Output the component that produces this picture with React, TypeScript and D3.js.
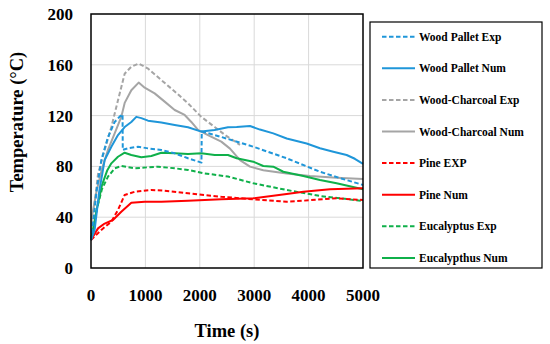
import React from 'react';
import * as d3 from 'd3';

// [time (s), temperature (°C)]
const woodPalletExp: [number, number][] = [
  [0, 22], [50, 40], [100, 60], [190, 85], [312, 103], [435, 115], [557, 120.5], [580, 121],
  [584, 93], [700, 94.5], [864, 95.5], [1048, 94.2], [1293, 93], [1538, 90.3], [1783, 86.4],
  [2030, 83], [2036, 107.5], [2273, 104.7], [2487, 102], [2983, 95.5], [3597, 86.4],
  [4209, 75.8], [4600, 70.5], [5000, 65.4],
];
const woodPalletNum: [number, number][] = [
  [0, 22], [67, 30], [150, 60], [251, 85], [374, 95.5], [496, 104.7], [619, 111], [741, 115],
  [833, 119], [925, 118], [1048, 116], [1293, 114.5], [1538, 112.6], [1783, 110.8], [2028, 107.4],
  [2273, 108.7], [2518, 110.8], [2678, 111], [2922, 111.8], [3106, 109], [3351, 106], [3597, 102],
  [3964, 98], [4209, 94.3], [4454, 91.6], [4699, 89], [4850, 86], [5000, 82],
];
const woodCharcoalExp: [number, number][] = [
  [0, 22], [50, 45], [129, 74], [251, 93], [374, 111], [496, 132], [619, 153], [741, 158.5],
  [876, 161], [1048, 157], [1293, 148], [1538, 139], [1783, 129.7], [2028, 119], [2273, 111],
  [2487, 104], [2739, 97],
];
const woodCharcoalNum: [number, number][] = [
  [0, 22], [15, 40], [100, 60], [200, 78], [312, 93], [435, 106], [557, 119], [619, 130],
  [741, 140], [876, 146], [987, 142], [1170, 137.5], [1354, 131], [1538, 124.4], [1722, 120.5],
  [1844, 115], [1967, 108.7], [2150, 104.7], [2395, 99.5], [2555, 94], [2739, 85], [2922, 79.8],
  [3167, 77], [3597, 74.5], [4025, 72.4], [4515, 71], [5000, 70],
];
const pineExp: [number, number][] = [
  [0, 22], [190, 30], [374, 36.5], [496, 45.7], [619, 57.5], [803, 60], [1109, 61.4],
  [1354, 60.9], [1783, 58.8], [2395, 56.1], [2983, 54.1], [3597, 52.2], [3903, 53],
  [4515, 54.9], [5000, 53.5],
];
const pineNum: [number, number][] = [
  [0, 22], [129, 31.2], [251, 35], [404, 37.8], [557, 44.3], [741, 51.4], [987, 52.2],
  [1293, 52.2], [1783, 53], [2395, 54.1], [2983, 54.9], [3597, 58.3], [3903, 60.1],
  [4393, 62], [5000, 62.7],
];
const eucalyptusExp: [number, number][] = [
  [0, 22], [100, 45], [200, 62], [312, 71.9], [435, 78.5], [557, 80.3], [803, 78.5],
  [1048, 79.3], [1232, 79.8], [1538, 78.5], [1783, 77.2], [2089, 74.5], [2518, 72],
  [2983, 66.7], [3597, 61.4], [4209, 56.7], [5000, 52.8],
];
const eucalyptusNum: [number, number][] = [
  [0, 22], [100, 45], [200, 65], [300, 77], [374, 82.4], [496, 87.6], [619, 90.8], [741, 89],
  [925, 87.2], [1109, 88.2], [1293, 90.8], [1538, 90.3], [1783, 89.8], [2028, 90.3],
  [2273, 89], [2518, 89], [2678, 86.4], [2983, 83.7], [3167, 80.3], [3351, 79.8],
  [3535, 75.8], [3903, 72.4], [4209, 69.3], [4515, 66.7], [5000, 62],
];

const xTicks = [0, 1000, 2000, 3000, 4000, 5000];
const yTicks = [0, 40, 80, 120, 160, 200];

const BLUE = '#1f96d9';
const GRAY = '#a5a5a5';
const RED = '#ff0000';
const GREEN = '#0fb04a';

const series = [
  { name: 'Wood Pallet Exp', data: woodPalletExp, color: BLUE, dashed: true },
  { name: 'Wood Pallet Num', data: woodPalletNum, color: BLUE, dashed: false },
  { name: 'Wood-Charcoal Exp', data: woodCharcoalExp, color: GRAY, dashed: true },
  { name: 'Wood-Charcoal Num', data: woodCharcoalNum, color: GRAY, dashed: false },
  { name: 'Pine EXP', data: pineExp, color: RED, dashed: true },
  { name: 'Pine Num', data: pineNum, color: RED, dashed: false },
  { name: 'Eucalyptus Exp', data: eucalyptusExp, color: GREEN, dashed: true },
  { name: 'Eucalypthus Num', data: eucalyptusNum, color: GREEN, dashed: false },
];

const textStyle: React.CSSProperties = {
  fontFamily: "'Liberation Serif', 'DejaVu Serif', serif",
  fontWeight: 700,
};

export default function App() {
  const width = 550;
  const height = 344;
  const left = 91, right = 363, top = 14, bottom = 268;

  const x = d3.scaleLinear().domain([0, 5000]).range([left, right]);
  const y = d3.scaleLinear().domain([0, 200]).range([bottom, top]);
  const line = d3.line<[number, number]>().x(d => x(d[0])).y(d => y(d[1]));

  // lower series first so blue ends up on top like in the original
  const drawOrder = [3, 2, 7, 6, 5, 4, 1, 0];

  const legX = 370, legY = 22, legW = 172, legH = 246;
  const rowGap = 31.6;

  return (
    <svg width={width} height={height} style={{ position: 'absolute', left: 0, top: 0 }}>
      <rect width={width} height={height} fill="#fff" />
      {xTicks.slice(1, -1).map(t => (
        <line key={'gx' + t} x1={x(t)} x2={x(t)} y1={top} y2={bottom} stroke="#d9d9d9" strokeWidth={1} />
      ))}
      {yTicks.slice(1, -1).map(t => (
        <line key={'gy' + t} x1={left} x2={right} y1={y(t)} y2={y(t)} stroke="#d9d9d9" strokeWidth={1} />
      ))}
      {drawOrder.map(i => {
        const s = series[i];
        return (
          <path key={s.name} d={line(s.data) || ''} fill="none" stroke={s.color} strokeWidth={2}
            strokeDasharray={s.dashed ? '4.5 2.5' : undefined} strokeLinejoin="round" />
        );
      })}
      <rect x={left} y={top} width={right - left} height={bottom - top} fill="none" stroke="#000" strokeWidth={1.5} />
      {yTicks.map(t => (
        <text key={'ty' + t} x={73} y={y(t)} dy="0.35em" textAnchor="end" style={textStyle} fontSize={17}>{t}</text>
      ))}
      {xTicks.map(t => (
        <text key={'tx' + t} x={x(t)} y={295} dy="0.35em" textAnchor="middle" style={textStyle} fontSize={17}>{t}</text>
      ))}
      <text x={(left + right) / 2} y={337} textAnchor="middle" style={textStyle} fontSize={18.5}>Time (s)</text>
      <text transform="translate(23, 122) rotate(-90)" textAnchor="middle" style={textStyle} fontSize={18.5}>
        Temperature (°C)
      </text>

      <rect x={legX} y={legY} width={legW} height={legH} fill="#fff" stroke="#000" strokeWidth={1.2} />
      {series.map((s, i) => {
        const cy = legY + 14.7 + i * rowGap;
        return (
          <g key={'leg' + s.name}>
            <line x1={382} x2={415} y1={cy} y2={cy} stroke={s.color} strokeWidth={2}
              strokeDasharray={s.dashed ? '4.5 2.5' : undefined} />
            <text x={419} y={cy} dy="0.35em" style={textStyle} fontSize={11.5}>{s.name}</text>
          </g>
        );
      })}
    </svg>
  );
}
